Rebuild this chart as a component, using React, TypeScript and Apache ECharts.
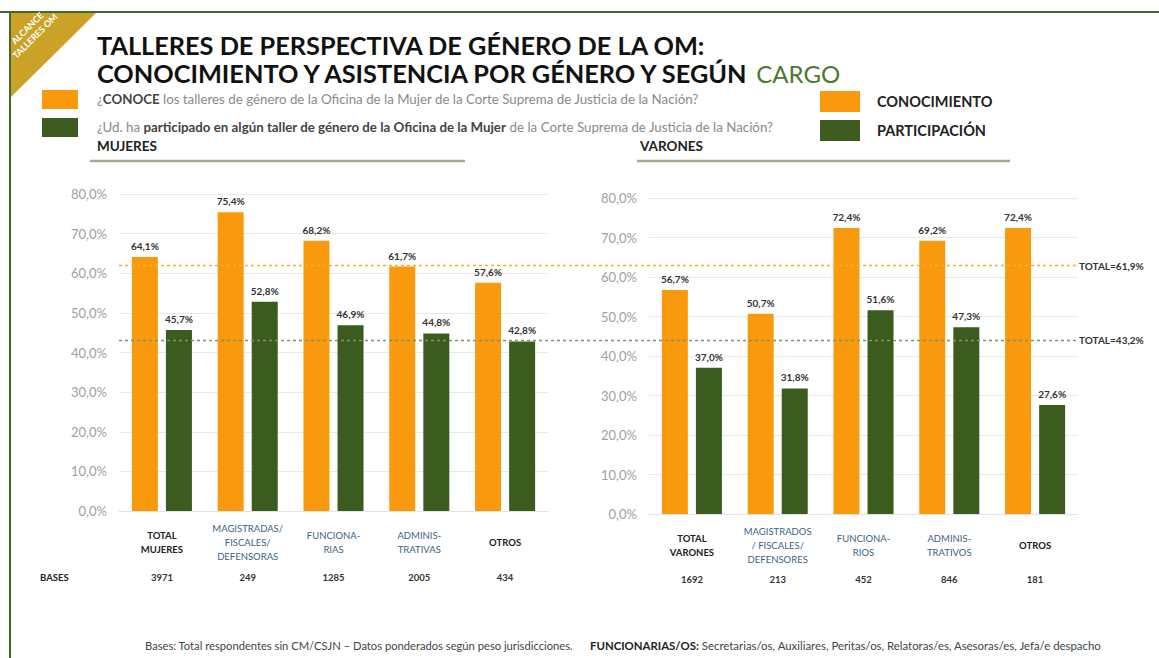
import React, { useEffect, useRef } from "react";
import * as echarts from "echarts";

const categoriesMujeres = ["TOTAL\nMUJERES", "MAGISTRADAS/\nFISCALES/\nDEFENSORAS", "FUNCIONA-\nRIAS", "ADMINIS-\nTRATIVAS", "OTROS"];
const categoriesVarones = ["TOTAL\nVARONES", "MAGISTRADOS\n/ FISCALES/\nDEFENSORES", "FUNCIONA-\nRIOS", "ADMINIS-\nTRATIVOS", "OTROS"];
const conocimientoMujeres = [64.1, 75.4, 68.2, 61.7, 57.6];
const participacionMujeres = [45.7, 52.8, 46.9, 44.8, 42.8];
const conocimientoVarones = [56.7, 50.7, 72.4, 69.2, 72.4];
const participacionVarones = [37.0, 31.8, 51.6, 47.3, 27.6];
const basesMujeres = ["3971", "249", "1285", "2005", "434"];
const basesVarones = ["1692", "213", "452", "846", "181"];
const totalConocimiento = 61.9;
const totalParticipacion = 43.2;

const ORANGE = "#F99A0E";
const GREEN = "#3B5B1F";
const FONT = "Lato";

const pct = (v: number) => v.toFixed(1).replace(".", ",") + "%";

const catFormatter = (v: string, idx: number) => {
  const tag = idx === 0 || idx === 4 ? "d" : "b";
  return v
    .split("\n")
    .map((l) => `{${tag}|${l}}`)
    .join("\n");
};

const catRich = {
  d: { fontFamily: FONT, fontSize: 9.5, fontWeight: "bold", color: "#222", lineHeight: 14 },
  b: { fontFamily: FONT, fontSize: 9.5, color: "#3e5f80", lineHeight: 14 },
};

export default function App() {
  const ref = useRef<HTMLDivElement>(null);
  useEffect(() => {
    if (!ref.current) return;
    const chart = echarts.init(ref.current, undefined, { renderer: "svg" });

    const barLabel = {
      show: true,
      position: "top",
      distance: 6,
      fontFamily: FONT,
      fontSize: 10,
      fontWeight: "bold",
      color: "#333",
      formatter: (p: any) => pct(p.value),
    };

    const catAxis = (grid: number, data: string[]) => ({
      gridIndex: grid,
      type: "category",
      data,
      axisLine: { show: true, lineStyle: { color: "#e3e3e3" } },
      axisTick: { show: false },
      axisLabel: {
        margin: 31,
        verticalAlign: "middle",
        interval: 0,
        formatter: catFormatter,
        rich: catRich,
      },
    });
    const basesAxis = (grid: number, data: string[], margin: number) => ({
      gridIndex: grid,
      type: "category",
      position: "bottom",
      data,
      axisLine: { show: false },
      axisTick: { show: false },
      splitLine: { show: false },
      axisLabel: {
        margin,
        interval: 0,
        verticalAlign: "middle",
        fontFamily: FONT,
        fontSize: 9.5,
        fontWeight: "bold",
        color: "#333",
      },
    });
    const valAxis = (grid: number) => ({
      gridIndex: grid,
      type: "value",
      min: 0,
      max: 80,
      interval: 10,
      axisLine: { show: false },
      axisTick: { show: false },
      axisLabel: {
        margin: 12,
        fontFamily: FONT,
        fontSize: 13,
        color: "#a0a0a0",
        formatter: (v: number) => pct(v),
      },
      splitLine: { lineStyle: { color: "#e8e8e8", width: 1 } },
    });

    const markLabel = {
      show: true,
      position: "end",
      distance: 3,
      fontFamily: FONT,
      fontSize: 10,
      fontWeight: "bold",
      color: "#333",
    };

    const option: any = {
      animation: false,
      backgroundColor: "#ffffff",
      textStyle: { fontFamily: FONT },
      legend: {
        data: ["CONOCIMIENTO", "PARTICIPACIÓN"],
        orient: "vertical",
        left: 815,
        top: 86,
        itemWidth: 40,
        itemHeight: 21,
        itemGap: 8,
        icon: "rect",
        selectedMode: false,
        textStyle: {
          fontFamily: FONT,
          fontSize: 14.5,
          fontWeight: "bold",
          color: "#222",
          padding: [0, 0, 0, 12],
        },
      },
      grid: [
        { left: 119, right: 611, top: 194, bottom: 147 },
        { left: 649, right: 81, top: 198, bottom: 144 },
        { left: 119, right: 83, top: 194, bottom: 147 },
      ],
      xAxis: [
        catAxis(0, categoriesMujeres),
        basesAxis(0, basesMujeres, 66),
        catAxis(1, categoriesVarones),
        basesAxis(1, basesVarones, 65),
        { gridIndex: 2, type: "value", min: 0, max: 1, show: false },
      ],
      yAxis: [valAxis(0), valAxis(1), { gridIndex: 2, type: "value", min: 0, max: 80, show: false }],
      series: [
        {
          name: "CONOCIMIENTO",
          type: "bar",
          xAxisIndex: 0,
          yAxisIndex: 0,
          data: conocimientoMujeres,
          barWidth: 26,
          barGap: "31%",
          itemStyle: { color: ORANGE },
          label: barLabel,
        },
        {
          name: "PARTICIPACIÓN",
          type: "bar",
          xAxisIndex: 0,
          yAxisIndex: 0,
          data: participacionMujeres,
          barWidth: 26,
          barGap: "31%",
          itemStyle: { color: GREEN },
          label: barLabel,
        },
        {
          name: "CONOCIMIENTO",
          type: "bar",
          xAxisIndex: 2,
          yAxisIndex: 1,
          data: conocimientoVarones,
          barWidth: 26,
          barGap: "31%",
          itemStyle: { color: ORANGE },
          label: barLabel,
        },
        {
          name: "PARTICIPACIÓN",
          type: "bar",
          xAxisIndex: 2,
          yAxisIndex: 1,
          data: participacionVarones,
          barWidth: 26,
          barGap: "31%",
          itemStyle: { color: GREEN },
          label: barLabel,
        },
        {
          name: "totales",
          type: "line",
          xAxisIndex: 4,
          yAxisIndex: 2,
          data: [],
          z: 5,
          markLine: {
            silent: true,
            symbol: "none",
            data: [
              {
                yAxis: totalConocimiento,
                lineStyle: { color: "#ffab2e", type: [3, 3], width: 1.3 },
                label: { ...markLabel, formatter: "TOTAL=" + pct(totalConocimiento) },
              },
              {
                yAxis: totalParticipacion,
                lineStyle: { color: "#7a966a", type: [3, 3], width: 1.3 },
                label: { ...markLabel, formatter: "TOTAL=" + pct(totalParticipacion) },
              },
            ],
          },
        },
      ],
      graphic: [
        { type: "line", shape: { x1: 0, y1: 12, x2: 1159, y2: 12 }, style: { stroke: "#3f6b2b", lineWidth: 2 } },
        { type: "line", shape: { x1: 10, y1: 12, x2: 10, y2: 658 }, style: { stroke: "#3f6b2b", lineWidth: 2 } },
        {
          type: "polygon",
          shape: { points: [[11, 13], [96, 13], [11, 97]] },
          style: { fill: "#c9a227" },
        },
        {
          type: "text",
          x: 31,
          y: 32,
          rotation: Math.PI / 4,
          style: {
            text: "ALCANCE\nTALLERES OM",
            fill: "#ffffff",
            font: `bold 9px ${FONT}`,
            align: "center",
            verticalAlign: "middle",
            lineHeight: 11,
          },
        },
        {
          type: "text",
          x: 97,
          y: 45,
          style: {
            text: "TALLERES DE PERSPECTIVA DE GÉNERO DE LA OM:",
            fill: "#111",
            font: `bold 25.3px ${FONT}`,
            verticalAlign: "middle",
          },
        },
        {
          type: "text",
          x: 97,
          y: 73,
          style: {
            text: "CONOCIMIENTO Y ASISTENCIA POR GÉNERO Y SEGÚN{g|CARGO}",
            fill: "#111",
            font: `bold 25.3px ${FONT}`,
            verticalAlign: "middle",
            rich: { g: { fill: "#4a7a2c", fontFamily: FONT, fontSize: 24, fontWeight: "normal", padding: [0, 0, 0, 4] } },
          },
        },
        { type: "rect", shape: { x: 42, y: 90, width: 36, height: 19 }, style: { fill: ORANGE } },
        { type: "rect", shape: { x: 42, y: 118, width: 36, height: 19 }, style: { fill: GREEN } },
        {
          type: "text",
          x: 97,
          y: 99,
          style: {
            text: "¿{b|CONOCE} los talleres de género de la Oficina de la Mujer de la Corte Suprema de Justicia de la Nación?",
            fill: "#8a8a8a",
            font: `13.3px ${FONT}`,
            verticalAlign: "middle",
            rich: { b: { fill: "#444", fontFamily: FONT, fontSize: 13.3, fontWeight: "bold" } },
          },
        },
        {
          type: "text",
          x: 97,
          y: 127,
          style: {
            text: "¿Ud. ha {b|participado en algún taller de género de la Oficina de la Mujer} de la Corte Suprema de Justicia de la Nación?",
            fill: "#8a8a8a",
            font: `13.3px ${FONT}`,
            verticalAlign: "middle",
            rich: { b: { fill: "#444", fontFamily: FONT, fontSize: 13.3, fontWeight: "bold" } },
          },
        },
        {
          type: "text",
          x: 97,
          y: 146,
          style: { text: "MUJERES", fill: "#222", font: `bold 13.5px ${FONT}`, verticalAlign: "middle" },
        },
        {
          type: "text",
          x: 640,
          y: 146,
          style: { text: "VARONES", fill: "#222", font: `bold 13.5px ${FONT}`, verticalAlign: "middle" },
        },
        { type: "line", shape: { x1: 90, y1: 161, x2: 465, y2: 161 }, style: { stroke: "#a3ad8e", lineWidth: 2.5 } },
        { type: "line", shape: { x1: 637, y1: 161, x2: 1010, y2: 161 }, style: { stroke: "#a3ad8e", lineWidth: 2.5 } },
        {
          type: "text",
          x: 40,
          y: 577,
          style: { text: "BASES", fill: "#222", font: `bold 9.5px ${FONT}`, verticalAlign: "middle" },
        },
        {
          type: "text",
          x: 145,
          y: 645,
          style: {
            text: "Bases: Total respondentes sin CM/CSJN – Datos ponderados según peso jurisdicciones.",
            fill: "#444",
            font: `11.2px ${FONT}`,
            verticalAlign: "middle",
          },
        },
        {
          type: "text",
          x: 590,
          y: 645,
          style: {
            text: "{b|FUNCIONARIAS/OS:} Secretarias/os, Auxiliares, Peritas/os, Relatoras/es, Asesoras/es, Jefa/e despacho",
            fill: "#444",
            font: `11.4px ${FONT}`,
            verticalAlign: "middle",
            rich: { b: { fill: "#222", fontFamily: FONT, fontSize: 11.4, fontWeight: "bold" } },
          },
        },
      ],
    };

    chart.setOption(option);
    return () => chart.dispose();
  }, []);

  return (
    <div
      ref={ref}
      style={{ position: "fixed", left: 0, top: 0, width: 1159, height: 658, background: "#fff" }}
    />
  );
}
